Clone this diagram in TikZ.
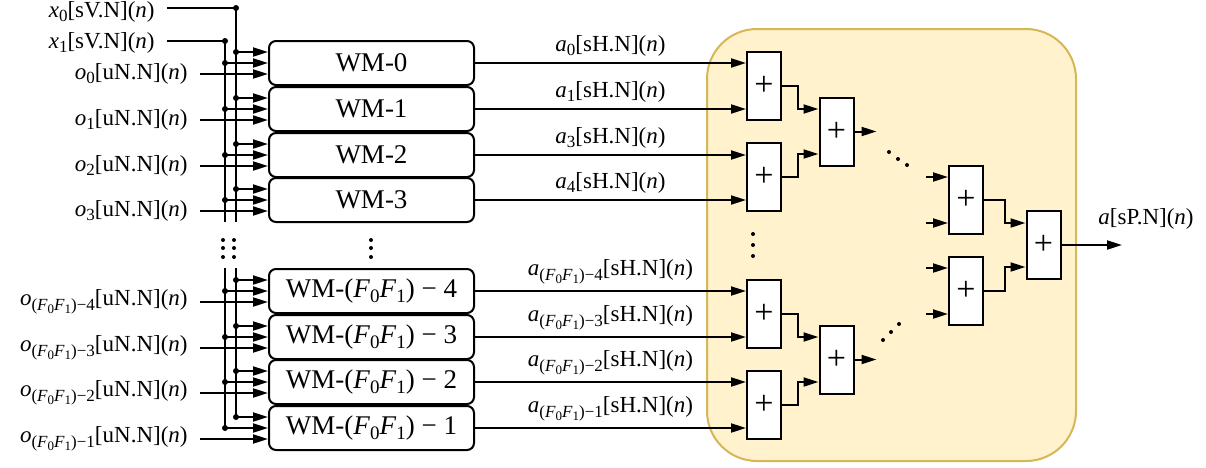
\documentclass[tikz,border=0pt]{standalone}
\usepackage{fontspec}
\setmainfont{Liberation Serif}
\usetikzlibrary{arrows.meta}

\definecolor{panelfill}{HTML}{FFF2CC}
\definecolor{panelline}{HTML}{D6B656}

\newcommand{\subtxt}[3]{\raisebox{-#2}{\fontsize{#1}{#1}\selectfont #3}}
\newcommand{\sig}[3]{\textit{#1}\subtxt{8.5pt}{2.2pt}{#2}[#3](\textit{n})}
\newcommand{\ffgrp}{(\textit{F}\subtxt{6.5pt}{1.4pt}{0}\textit{F}\subtxt{6.5pt}{1.4pt}{1})}
\newcommand{\ffbox}{(\textit{F}\subtxt{9.5pt}{2.4pt}{0}\textit{F}\subtxt{9.5pt}{2.4pt}{1})}

\tikzset{
  lbl/.style={inner sep=3pt, font=\fontsize{11.5}{13}\selectfont},
  wm/.style={draw, line width=1pt, rounded corners=3.5pt, minimum width=102.5pt,
    minimum height=22pt, inner sep=0pt, font=\fontsize{13.5}{16}\selectfont},
  adder/.style={draw, fill=white, line width=1pt, minimum width=17pt,
    minimum height=34pt, inner sep=0pt, font=\fontsize{17}{18}\selectfont},
  wire/.style={line width=1pt},
  feed/.style={wire, -{Triangle[length=7.5pt,width=4.5pt]}},
}

\begin{document}
\begin{tikzpicture}[x=0.5pt,y=-0.5pt]
\useasboundingbox (0,0) rectangle (1206,467);

% adder tree panel
\draw[panelline, fill=panelfill, line width=1pt, rounded corners=25pt]
    (707,29) rectangle (1076,461);

% weight multipliers
\foreach \i/\y/\txt in {0/63/WM-0, 1/109/WM-1, 2/155/WM-2, 3/200/WM-3,
    4/291/{WM-\ffbox{} − 4}, 5/337/{WM-\ffbox{} − 3},
    6/382/{WM-\ffbox{} − 2}, 7/428/{WM-\ffbox{} − 1}}
    \node[wm] (wm\i) at (371.5,\y) {\txt};

% input labels
\node[lbl, anchor=east] (x0) at (161,12) {\sig{x}{0}{sV.N}};
\node[lbl, anchor=east] (x1) at (161,43) {\sig{x}{1}{sV.N}};
\foreach \i/\sub in {0/0, 1/1, 2/2, 3/3, 4/{\ffgrp−4}, 5/{\ffgrp−3},
    6/{\ffgrp−2}, 7/{\ffgrp−1}}
    \node[lbl, anchor=east] (o\i) at ([xshift=-37pt,yshift=-5.5pt]wm\i.west) {\sig{o}{\sub}{uN.N}};

% shared buses
\coordinate (busA) at (236,8);
\coordinate (busB) at (225,41);
\coordinate (busAgap) at (236,222);
\coordinate (busBgap) at (225,222);
\coordinate (busAlow) at (236,268);
\coordinate (busBlow) at (225,268);

\draw[wire, shorten <=3pt] (x0.east |- busA) -- (busA);
\draw[wire, shorten <=3pt] (x1.east |- busB) -- (busB);
\fill (busA) circle (1.5pt);
\fill (busB) circle (1.5pt);
\draw[wire] (busA) -- (busAgap);
\draw[wire] (busB) -- (busBgap);

\foreach \i in {0,...,7} {
    \coordinate (inA\i) at ([yshift=5.5pt]wm\i.west);
    \coordinate (inC\i) at ([yshift=-5.5pt]wm\i.west);
    \fill (inA\i -| busA) circle (1.5pt);
    \draw[feed] (inA\i -| busA) -- (inA\i);
    \fill (wm\i.west -| busB) circle (1.5pt);
    \draw[feed] (wm\i.west -| busB) -- (wm\i.west);
    \draw[feed, shorten <=3pt] (o\i.east |- inC\i) -- (inC\i);
}
\draw[wire] (busAlow) -- (inA7 -| busA);
\draw[wire] (busBlow) -- (wm7.west -| busB);

% vertical dots
\foreach \x in {223,234,371}
    \foreach \y in {240,248,257}
        \fill (\x,\y) circle (1pt);

% first adder stage
\node[adder] (addA0) at (764,86)  {+};
\node[adder] (addA1) at (764,177) {+};
\node[adder] (addA2) at (764,314) {+};
\node[adder] (addA3) at (764,405) {+};

\foreach \i/\j/\txt in {0/0/{\sig{a}{0}{sH.N}}, 1/0/{\sig{a}{1}{sH.N}},
    2/1/{\sig{a}{3}{sH.N}}, 3/1/{\sig{a}{4}{sH.N}},
    4/2/{\sig{a}{\ffgrp−4}{sH.N}}, 5/2/{\sig{a}{\ffgrp−3}{sH.N}},
    6/3/{\sig{a}{\ffgrp−2}{sH.N}}, 7/3/{\sig{a}{\ffgrp−1}{sH.N}}}
    \draw[feed] (wm\i.east) -- node[lbl, midway, above] (la\i) {\txt} (wm\i.east -| addA\j.west);

% second adder stage
\node[adder] (addB0) at (836.5,131.5) {+};
\node[adder] (addB1) at (836.5,359.5) {+};

\draw[feed] (addA0.east) -- ++(16,0) |- ([yshift=11.25pt]addB0.west);
\draw[feed] (addA1.east) -- ++(16,0) |- ([yshift=-11.25pt]addB0.west);
\draw[feed] (addA2.east) -- ++(16,0) |- ([yshift=11.25pt]addB1.west);
\draw[feed] (addA3.east) -- ++(16,0) |- ([yshift=-11.25pt]addB1.west);
\draw[feed] (addB0.east) -- ++(22,0);
\draw[feed] (addB1.east) -- ++(22,0);

\foreach \y in {234,245,256}
    \fill (753,\y) circle (1pt);
\foreach \p in {(889,152),(898,159),(907,165),(883,340),(891,332),(899,324)}
    \fill \p circle (1pt);

% last stages
\node[adder] (addC0) at (966,200) {+};
\node[adder] (addC1) at (966,291) {+};
\node[adder] (addD) at (1043.5,245) {+};

\foreach \k in {0,1}
    \foreach \s in {11.5,-11.5}
        \draw[feed] ([xshift=-11pt,yshift=\s pt]addC\k.west) -- ([yshift=\s pt]addC\k.west);

\draw[feed] (addC0.east) -- ++(21,0) |- ([yshift=11pt]addD.west);
\draw[feed] (addC1.east) -- ++(21,0) |- ([yshift=-11pt]addD.west);

\coordinate (sumout) at (1122,245);
\draw[feed] (addD.east) -- (sumout);
\node[lbl, anchor=south west] (asum) at (1092,236) {\textit{a}[sP.N](\textit{n})};

\end{tikzpicture}
\end{document}
